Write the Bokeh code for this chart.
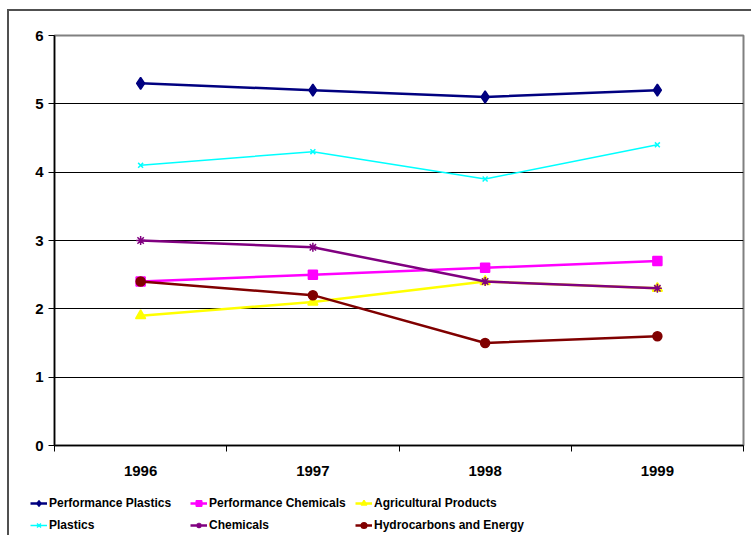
from bokeh.plotting import figure
from bokeh.layouts import column
from bokeh.models import Legend, LegendItem, FixedTicker, Range1d
from bokeh.embed import file_html
from bokeh.resources import INLINE

years = ["1996", "1997", "1998", "1999"]
perf_plastics = [5.3, 5.2, 5.1, 5.2]
perf_chemicals = [2.4, 2.5, 2.6, 2.7]
agri_products = [1.9, 2.1, 2.4, 2.3]
plastics = [4.1, 4.3, 3.9, 4.4]
chemicals = [3.0, 2.9, 2.4, 2.3]
hydrocarbons = [2.4, 2.2, 1.5, 1.6]
y_ticks = [0, 1, 2, 3, 4, 5, 6]

series = [
    ("Performance Plastics", perf_plastics, "#000080", "diamond", 12, 2.5),
    ("Performance Chemicals", perf_chemicals, "#FF00FF", "square", 9, 2.5),
    ("Agricultural Products", agri_products, "#FFFF00", "triangle", 10, 2.5),
    ("Plastics", plastics, "#00FFFF", "x", 7, 1.5),
    ("Chemicals", chemicals, "#800080", "asterisk", 9, 2.5),
    ("Hydrocarbons and Energy", hydrocarbons, "#800000", "circle", 9, 2.5),
]

xs = [i + 0.5 for i in range(len(years))]

p = figure(width=742, height=470, output_backend="svg", toolbar_location=None,
           x_range=Range1d(0, len(years)), y_range=Range1d(y_ticks[0], y_ticks[-1]),
           min_border_left=45, min_border_top=24, min_border_right=8, min_border_bottom=36)

p.background_fill_color = "white"
p.border_fill_color = "white"
p.outline_line_color = "#808080"
p.outline_line_width = 2

# axes
p.xaxis.ticker = FixedTicker(ticks=xs, minor_ticks=list(range(len(years) + 1)))
p.xaxis.major_label_overrides = {x: y for x, y in zip(xs, years)}
p.xaxis.major_tick_out = 0
p.xaxis.major_tick_in = 0
p.xaxis.minor_tick_out = 6
p.xaxis.minor_tick_in = 0
p.xaxis.major_label_standoff = 14
p.yaxis.ticker = FixedTicker(ticks=y_ticks)
p.yaxis.major_tick_out = 6
p.yaxis.major_tick_in = 0
p.yaxis.minor_tick_out = 0
p.yaxis.minor_tick_in = 0
p.yaxis.major_label_standoff = 5
for ax in (p.xaxis, p.yaxis):
    ax.axis_line_color = "black"
    ax.axis_line_width = 1.5
    ax.major_tick_line_color = "black"
    ax.minor_tick_line_color = "black"
    ax.major_label_text_font = "Liberation Sans"
    ax.major_label_text_font_style = "bold"
    ax.major_label_text_font_size = "15px"
    ax.major_label_text_color = "black"

p.xgrid.visible = False
p.ygrid.grid_line_color = "black"
p.ygrid.grid_line_width = 1

for name, vals, color, marker, size, lw in series:
    p.line(xs, vals, line_color=color, line_width=lw)
    p.scatter(xs, vals, marker=marker, size=size, line_color=color,
              fill_color=color, line_width=1.5)

# legend strip below the chart (its own renderers fall outside its ranges)
lg = figure(width=742, height=54, output_backend="svg", toolbar_location=None,
            x_axis_type=None, y_axis_type=None,
            x_range=Range1d(0, len(years)), y_range=Range1d(-2, -1),
            min_border_left=0, min_border_right=0, min_border_top=0, min_border_bottom=0)
lg.outline_line_color = None
lg.background_fill_color = "white"
lg.border_fill_color = "white"

if "frame_align" in lg.properties():
    lg.frame_align = False
    col_x = [21, 181, 346]
else:
    col_x = [0, 136, 301]

items = []
for name, vals, color, marker, size, lw in series:
    ln = lg.line(xs, vals, line_color=color, line_width=lw)
    sc = lg.scatter(xs, vals, marker=marker, size=size, line_color=color,
                    fill_color=color, line_width=1.5)
    items.append(LegendItem(label=name, renderers=[ln, sc]))

for c in range(3):
    leg = Legend(items=[items[c], items[c + 3]], orientation="vertical",
                 location=(col_x[c], 1), glyph_width=17, glyph_height=14,
                 label_text_font="Liberation Sans", label_text_font_style="bold",
                 label_text_font_size="12px", label_text_color="black",
                 label_standoff=2, spacing=4,
                 padding=0, margin=0, border_line_color=None,
                 background_fill_alpha=0, label_height=18)
    lg.add_layout(leg, "center")

layout = column(p, lg, spacing=0,
                styles={"margin-left": "7px", "margin-top": "9px",
                        "border-top": "2px solid #505050",
                        "border-left": "2px solid #505050"})

open("out.html", "w").write(file_html(layout, INLINE))
